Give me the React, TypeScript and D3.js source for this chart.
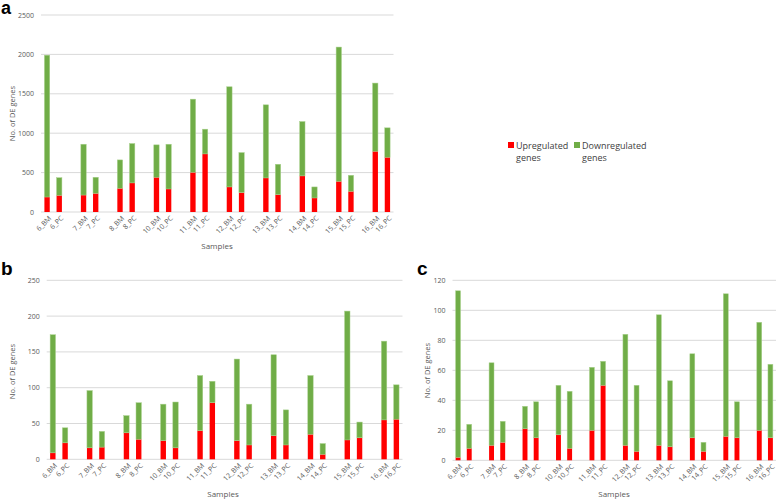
import React from "react";
import * as d3 from "d3";

const groups = ["6", "7", "8", "10", "11", "12", "13", "14", "15", "16"];
const samples = groups.flatMap((g) => [`${g}_BM`, `${g}_PC`]);

// Panel a
const upA = [190, 212, 215, 237, 301, 369, 441, 292, 504, 737, 318, 246, 432, 220, 458, 178, 390, 263, 771, 695];
const downA = [1800, 223, 645, 204, 360, 500, 411, 568, 928, 314, 1271, 508, 928, 386, 690, 140, 1703, 203, 865, 373];
const ticksA = [0, 500, 1000, 1500, 2000, 2500];

// Panel b
const upB = [9, 23, 16, 17, 37, 28, 26, 16, 40, 79, 26, 20, 33, 20, 35, 7, 27, 30, 55, 56];
const downB = [165, 21, 80, 22, 24, 51, 51, 64, 77, 30, 114, 57, 113, 49, 82, 15, 180, 22, 110, 48];
const ticksB = [0, 50, 100, 150, 200, 250];

// Panel c
const upC = [2, 8, 10, 12, 21, 15, 17, 8, 20, 50, 10, 6, 10, 9, 15, 6, 16, 15, 20, 15];
const downC = [111, 16, 55, 14, 15, 24, 33, 38, 42, 16, 74, 44, 87, 44, 56, 6, 95, 24, 72, 49];
const ticksC = [0, 20, 40, 60, 80, 100, 120];

const legendLabels = ["Upregulated", "Downregulated"];

const RED = "#ff0000";
const GREEN = "#70ad47";
const GRID = "#d9d9d9";
const TXT = "#595959";
const FONT = "'Open Sans', 'Liberation Sans', sans-serif";

// slots: BM, PC, gap between groups
const slots: string[] = [];
groups.forEach((g, i) => {
  slots.push(`${g}_BM`, `${g}_PC`);
  if (i < groups.length - 1) slots.push(`gap${i}`);
});

type PanelProps = {
  x0: number;
  x1: number;
  yTop: number;
  yBot: number;
  up: number[];
  down: number[];
  ticks: number[];
  titleX: number;
  titleY: number;
  yTitleX: number;
  yTitleY: number;
};

function Panel({ x0, x1, yTop, yBot, up, down, ticks, titleX, titleY, yTitleX, yTitleY }: PanelProps) {
  const x = d3.scaleBand<string>().domain(slots).range([x0, x1]).paddingInner(0).paddingOuter(0);
  const y = d3.scaleLinear().domain([0, ticks[ticks.length - 1]]).range([yBot, yTop]);
  const bw = x.bandwidth() * 0.44;
  return (
    <g>
      {ticks.map((t) => (
        <g key={t}>
          <line x1={x0} x2={x1} y1={y(t)} y2={y(t)} stroke={GRID} strokeWidth={1} />
          <text x={x0 - 7} y={y(t) + 2.5} textAnchor="end" fontSize={7} fill={TXT} fontFamily={FONT}>
            {t}
          </text>
        </g>
      ))}
      {samples.map((s, i) => {
        const cx = (x(s) as number) + x.bandwidth() / 2;
        const u = up[i];
        const dn = down[i];
        return (
          <g key={s}>
            <rect x={cx - bw / 2} y={y(u)} width={bw} height={y(0) - y(u)} fill={RED} />
            <rect
              x={cx - bw / 2}
              y={y(u + dn)}
              width={bw}
              height={y(u) - y(u + dn)}
              fill={GREEN}
              stroke="#a9d18e"
              strokeWidth={0.5}
            />
            <text
              transform={`translate(${cx + 3},${yBot + 5}) rotate(-45)`}
              textAnchor="end"
              fontSize={7}
              fill={TXT}
              fontFamily={FONT}
              dy="0.35em"
            >
              {s}
            </text>
          </g>
        );
      })}
      <text x={titleX} y={titleY} textAnchor="middle" fontSize={8} fill={TXT} fontFamily={FONT}>
        Samples
      </text>
      <text
        transform={`translate(${yTitleX},${yTitleY}) rotate(-90)`}
        textAnchor="middle"
        fontSize={7.5}
        fill={TXT}
        fontFamily={FONT}
      >
        No. of DE genes
      </text>
    </g>
  );
}

export default function App() {
  return (
    <svg
      width={778}
      height={502}
      style={{ position: "absolute", left: 0, top: 0, background: "#fff" }}
      xmlns="http://www.w3.org/2000/svg"
    >
      <rect width={778} height={502} fill="#fff" />
      <text x={1} y={14} fontSize={18} fontWeight="bold" fontFamily="'Liberation Sans', Arial, sans-serif">
        a
      </text>
      <text x={1} y={275} fontSize={19} fontWeight="bold" fontFamily="'Liberation Sans', Arial, sans-serif">
        b
      </text>
      <text x={417} y={275} fontSize={19} fontWeight="bold" fontFamily="'Liberation Sans', Arial, sans-serif">
        c
      </text>
      <Panel x0={41} x1={393.5} yTop={15} yBot={212} up={upA} down={downA} ticks={ticksA}
        titleX={217} titleY={249} yTitleX={14.5} yTitleY={113.5} />
      <Panel x0={46.7} x1={402.5} yTop={280.3} yBot={459.3} up={upB} down={downB} ticks={ticksB}
        titleX={223} titleY={497} yTitleX={14.5} yTitleY={371.5} />
      <Panel x0={452.5} x1={776} yTop={280.3} yBot={460.3} up={upC} down={downC} ticks={ticksC}
        titleX={614} titleY={497} yTitleX={430} yTitleY={370.5} />
      {/* legend */}
      <g fontFamily={FONT} fontSize={9} fill="#404040">
        <rect x={508} y={142} width={6} height={6} fill={RED} />
        <text x={516} y={148.5}>{legendLabels[0]}</text>
        <text x={516} y={160.5}>genes</text>
        <rect x={574} y={142} width={6} height={6} fill={GREEN} />
        <text x={582} y={148.5}>{legendLabels[1]}</text>
        <text x={582} y={160.5}>genes</text>
      </g>
    </svg>
  );
}
